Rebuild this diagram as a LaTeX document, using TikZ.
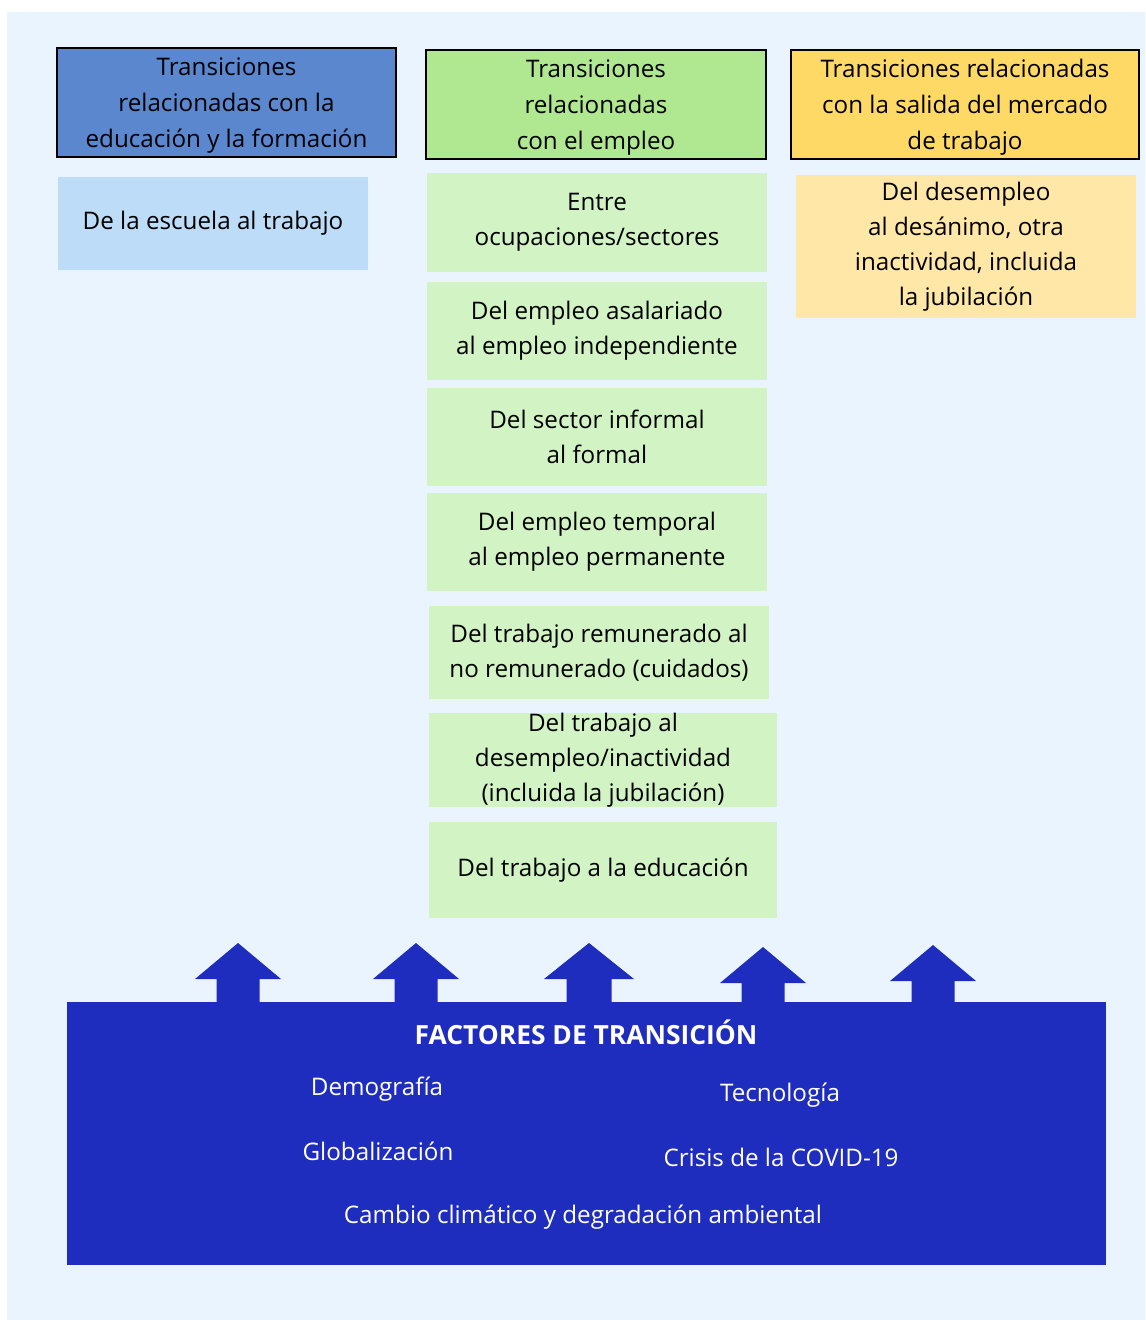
\documentclass[tikz,border=0pt]{standalone}
\usepackage{fontspec}
\setmainfont{Open Sans}

\definecolor{panelbg}{HTML}{EAF4FE}
\definecolor{headblue}{HTML}{5B87CF}
\definecolor{headgreen}{HTML}{B0E891}
\definecolor{headyellow}{HTML}{FFD966}
\definecolor{subblue}{HTML}{BDDCF8}
\definecolor{subgreen}{HTML}{D2F3C3}
\definecolor{subyellow}{HTML}{FFE8A7}
\definecolor{factorblue}{HTML}{1F2DBF}

\tikzset{
    header/.style={draw=black, line width=1pt, align=center, inner sep=0pt, text depth=0pt,
        font=\fontsize{12.1}{18}\selectfont},
    transbox/.style={align=center, inner sep=0pt,
        font=\fontsize{12.1}{17.5}\selectfont},
    factor/.style={text=white, font=\fontsize{12.1}{17.5}\selectfont},
}

\begin{document}
\begin{tikzpicture}[x=0.5pt,y=-0.5pt]

    \useasboundingbox (0,0) rectangle (1145,1320);
    \fill[panelbg] (7,12) rectangle (1145,1320);

    % column headers
    \node[header, fill=headblue, minimum width=169.5pt, minimum height=54.5pt] (hedu) at (226.5,102.5)
        {Transiciones\\relacionadas con la\\educación y la formación};
    \node[header, fill=headgreen, minimum width=170pt, minimum height=54.5pt] (hemp) at (596,104.5)
        {Transiciones\\relacionadas\\con el empleo};
    \node[header, fill=headyellow, minimum width=174pt, minimum height=54.5pt] (hsal) at (965,104.5)
        {Transiciones relacionadas\\con la salida del mercado\\de trabajo};

    % education column
    \node[transbox, fill=subblue, minimum width=155pt, minimum height=46.5pt] (escuela) at (213,223.5)
        {De la escuela al trabajo};

    % employment column
    \node[transbox, fill=subgreen, minimum width=170pt, minimum height=49.5pt] (ocup) at (597,222.5)
        {Entre\\ocupaciones/sectores};
    \node[transbox, fill=subgreen, minimum width=170pt, minimum height=49pt] (asal) at (597,331)
        {Del empleo asalariado\\al empleo independiente};
    \node[transbox, fill=subgreen, minimum width=170pt, minimum height=49pt] (informal) at (597,437)
        {Del sector informal\\al formal};
    \node[transbox, fill=subgreen, minimum width=170pt, minimum height=49pt] (temporal) at (597,542)
        {Del empleo temporal\\al empleo permanente};
    \node[transbox, fill=subgreen, minimum width=170pt, minimum height=46.5pt] (cuidados) at (599,652.5)
        {Del trabajo remunerado al\\no remunerado (cuidados)};
    \node[transbox, fill=subgreen, minimum width=174pt, minimum height=47pt] (inact) at (603,760)
        {Del trabajo al\\desempleo/inactividad\\(incluida la jubilación)};
    \node[transbox, fill=subgreen, minimum width=174pt, minimum height=48pt] (educ) at (603,870)
        {Del trabajo a la educación};

    % exit column
    \node[transbox, fill=subyellow, minimum width=170pt, minimum height=71.5pt] (desan) at (966,246.5)
        {Del desempleo\\al desánimo, otra\\inactividad, incluida\\la jubilación};

    % factors
    \foreach \ax/\ay/\aw in {238/943/43, 416/943/43, 589/943/45, 763/947/43, 933/945/43}
        \fill[factorblue] (\ax,\ay) -- (\ax+\aw,\ay+36) -- (\ax+\aw/2,\ay+36) -- (\ax+\aw/2,1004)
            -- (\ax-\aw/2,1004) -- (\ax-\aw/2,\ay+36) -- (\ax-\aw,\ay+36) -- cycle;

    \node[fill=factorblue, minimum width=519.5pt, minimum height=131.5pt, inner sep=0pt] (factores) at (586.5,1133.5) {};
    \node[factor, font=\fontsize{13.2}{17.5}\selectfont\bfseries] (ftitle) at (586,1032) {FACTORES DE TRANSICIÓN};
    \node[factor] (demo) at (377,1089) {Demografía};
    \node[factor] (tecno) at (780,1095) {Tecnología};
    \node[factor] (glob) at (378,1151) {Globalización};
    \node[factor] (covid) at (781,1157) {Crisis de la COVID-19};
    \node[factor] (clima) at (583,1217) {Cambio climático y degradación ambiental};

\end{tikzpicture}
\end{document}
